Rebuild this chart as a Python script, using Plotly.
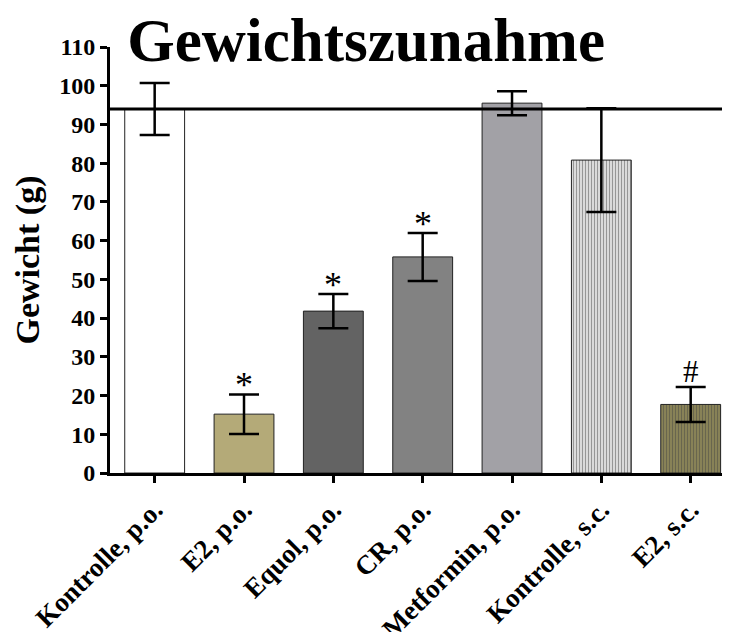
import plotly.graph_objects as go

categories = ["Kontrolle, p.o.", "E2, p.o.", "Equol, p.o.", "CR, p.o.",
              "Metformin, p.o.", "Kontrolle, s.c.", "E2, s.c."]
means = [94.0, 15.2, 41.8, 55.8, 95.5, 80.8, 17.7]
sems = [6.7, 5.1, 4.4, 6.2, 3.1, 13.4, 4.5]
marks = ["", "*", "*", "*", "", "", "#"]
reference_level = 94.0
y_ticks = [0, 10, 20, 30, 40, 50, 60, 70, 80, 90, 100, 110]

colors = ["#ffffff", "#b4aa78", "#636363", "#828282", "#a2a1a6", "#e8e8e8", "#8e8859"]
pattern_shapes = ["", "", "", "", "", "|", "|"]
pattern_fg = ["#000000", "#000000", "#000000", "#000000", "#000000", "#b4b4b4", "#676240"]

SERIF = "Liberation Serif"

fig = go.Figure()
fig.add_trace(go.Bar(
    x=categories, y=means,
    width=0.67,
    marker=dict(color=colors, line=dict(color="#222222", width=1),
                pattern=dict(shape=pattern_shapes, fgcolor=pattern_fg,
                             fillmode="overlay", size=3, solidity=0.45)),
    error_y=dict(type="data", array=sems, visible=True, color="black",
                 thickness=2.5, width=15),
    showlegend=False,
))

for c, m, s, t in zip(categories, means, sems, marks):
    if t:
        fig.add_annotation(x=c, y=m + s, text=t, showarrow=False,
                           yanchor="bottom", yshift=-13 if t == "*" else -4,
                           font=dict(family=SERIF, size=36 if t == "*" else 31,
                                     color="black"))

fig.add_shape(type="line", xref="paper", yref="y", x0=0, x1=0.99,
              y0=reference_level, y1=reference_level,
              line=dict(color="black", width=3))

fig.update_layout(
    width=722, height=624,
    margin=dict(l=102, r=0, t=39, b=159),
    paper_bgcolor="white", plot_bgcolor="white",
    title=dict(text="<b>Gewichtszunahme</b>", x=0.496, xanchor="center",
               xref="container", y=0.983, yanchor="top",
               font=dict(family=SERIF, size=61, color="black")),
    xaxis=dict(range=[-0.5, 6.44], showline=True, linecolor="black", linewidth=3,
               ticks="outside", ticklen=7, tickwidth=3, tickcolor="black",
               tickangle=-45, showgrid=False, zeroline=False, automargin=False,
               tickfont=dict(family=SERIF, size=27, color="black", weight="bold")),
    yaxis=dict(range=[0, 110], tickvals=y_ticks, showline=True, linecolor="black",
               linewidth=3, ticks="outside", ticklen=7, tickwidth=3,
               tickcolor="black", showgrid=False, zeroline=False, automargin=False,
               title=dict(text="Gewicht (g)", standoff=10,
                          font=dict(family=SERIF, size=34, color="black",
                                    weight="bold")),
               tickfont=dict(family=SERIF, size=24, color="black", weight="bold")),
)

fig.write_html("out.html")
